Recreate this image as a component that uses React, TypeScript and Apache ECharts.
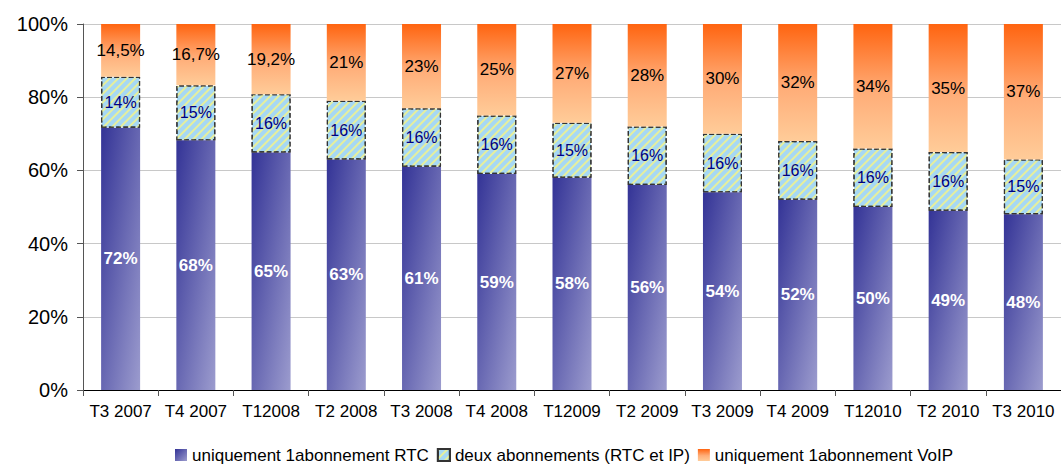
import React, { useEffect, useRef } from 'react';
import * as echarts from 'echarts';

const categories = ['T3 2007', 'T4 2007', 'T12008', 'T2 2008', 'T3 2008', 'T4 2008', 'T12009', 'T2 2009', 'T3 2009', 'T4 2009', 'T12010', 'T2 2010', 'T3 2010'];
const rtcValues = [72, 68, 65, 63, 61, 59, 58, 56, 54, 52, 50, 49, 48];
const deuxValues = [14, 15, 16, 16, 16, 16, 15, 16, 16, 16, 16, 16, 15];
const voipValues = [14.5, 16.7, 19.2, 21, 23, 25, 27, 28, 30, 32, 34, 35, 37];
const seriesNames = ['uniquement 1abonnement RTC', 'deux abonnements (RTC et IP)', 'uniquement 1abonnement VoIP'];
const yMin = 0;
const yMax = 100;
const yStep = 20;

const totals = categories.map((_, i) => rtcValues[i] + deuxValues[i] + voipValues[i]);
const toPercent = (arr: number[]) => arr.map((v, i) => (v / totals[i]) * 100);
const fmt = (v: number) => String(v).replace('.', ',') + '%';

const FONT = '"Liberation Sans", Arial, sans-serif';

export default function App() {
  const ref = useRef<HTMLDivElement>(null);
  useEffect(() => {
    document.body.style.margin = '0';
    if (!ref.current) return;
    const chart = echarts.init(ref.current, undefined, { renderer: 'svg' });
    const raw = [rtcValues, deuxValues, voipValues];
    chart.setOption({
      animation: false,
      textStyle: { fontFamily: FONT },
      grid: { left: 83, top: 24, width: 988, bottom: 76, containLabel: false },
      legend: {
        left: 170,
        top: 441,
        itemWidth: 12,
        itemHeight: 12,
        itemGap: 8,
        icon: 'rect',
        textStyle: { fontSize: 17, lineHeight: 18, color: '#000', fontFamily: FONT },
        data: seriesNames,
      },
      xAxis: {
        type: 'category',
        data: categories,
        axisLine: { lineStyle: { color: '#000', width: 1 } },
        axisTick: { show: true, length: 6, lineStyle: { color: '#555' } },
        axisLabel: { fontSize: 17, color: '#000', margin: 13, interval: 0 },
      },
      yAxis: {
        type: 'value',
        min: yMin,
        max: yMax,
        interval: yStep,
        axisLine: { show: true, lineStyle: { color: '#555', width: 1 } },
        axisTick: { show: true, length: 6, lineStyle: { color: '#555' } },
        axisLabel: { fontSize: 20, color: '#000', formatter: '{value}%', margin: 15 },
        splitLine: { lineStyle: { color: '#c8c8c8' } },
      },
      series: [
        {
          name: seriesNames[0],
          type: 'bar',
          stack: 'total',
          barWidth: 39,
          data: toPercent(rtcValues),
          itemStyle: {
            color: new echarts.graphic.LinearGradient(0, 0, 1, 1, [
              { offset: 0, color: '#333396' },
              { offset: 1, color: '#9c9cce' },
            ]),
          },
          label: {
            show: true,
            position: 'inside',
            color: '#fff',
            fontSize: 17,
            fontWeight: 'bold',
            fontFamily: FONT,
            formatter: (p: any) => fmt(raw[0][p.dataIndex]),
          },
        },
        {
          name: seriesNames[1],
          type: 'bar',
          stack: 'total',
          barWidth: 39,
          data: toPercent(deuxValues),
          itemStyle: {
            color: '#a6d8f4',
            borderColor: '#333',
            borderWidth: 1.2,
            borderType: 'dashed',
            decal: {
              symbol: 'rect',
              symbolSize: 1,
              color: '#e6ef9c',
              dashArrayX: [1, 0],
              dashArrayY: [2, 4],
              rotation: -Math.PI / 4,
            },
          },
          label: {
            show: true,
            position: 'inside',
            color: '#000080',
            fontSize: 16,
            fontFamily: FONT,
            formatter: (p: any) => fmt(raw[1][p.dataIndex]),
          },
        },
        {
          name: seriesNames[2],
          type: 'bar',
          stack: 'total',
          barWidth: 39,
          data: toPercent(voipValues),
          itemStyle: {
            color: new echarts.graphic.LinearGradient(0, 0, 0, 1, [
              { offset: 0, color: '#ff6410' },
              { offset: 0.55, color: '#ffad78' },
              { offset: 1, color: '#ffcc99' },
            ]),
          },
          label: {
            show: true,
            position: 'inside',
            color: '#000',
            fontSize: 17,
            fontFamily: FONT,
            formatter: (p: any) => fmt(raw[2][p.dataIndex]),
          },
        },
      ],
    });
    return () => chart.dispose();
  }, []);
  return <div ref={ref} style={{ width: 1061, height: 466 }} />;
}
